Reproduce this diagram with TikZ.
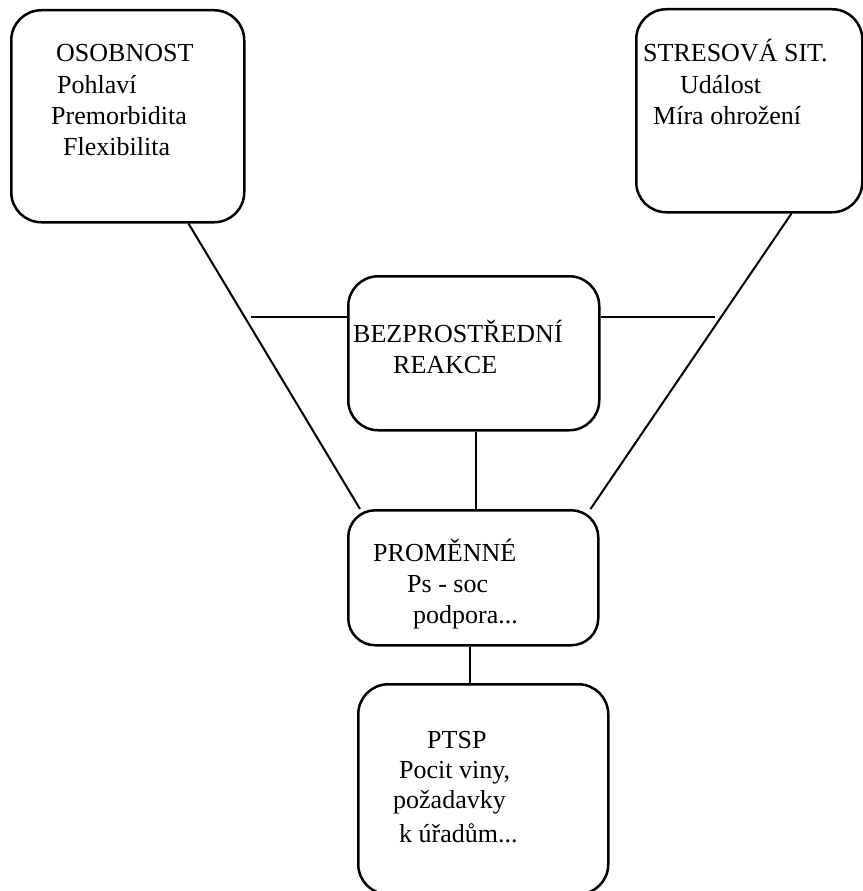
\documentclass[tikz,border=0pt]{standalone}
\usepackage{fontspec}
\setmainfont{Liberation Serif}
\begin{document}
\begin{tikzpicture}[x=1pt,y=-1pt,
  box/.style={draw, line width=2.5pt, rounded corners=30pt, anchor=north west, inner sep=0pt},
  conn/.style={line width=2pt},
  lbl/.style={anchor=base west, inner sep=0pt, font=\fontsize{26}{31}\selectfont}]
\useasboundingbox (0,0) rectangle (862,891);
% boxes
\node[box, minimum width=233pt, minimum height=212pt] (osob) at (10,9) {};
\node[box, minimum width=226pt, minimum height=203pt] (stres) at (635,8) {};
\node[box, minimum width=251pt, minimum height=154pt] (bez) at (347,275) {};
\node[box, rounded corners=27pt, minimum width=250pt, minimum height=135pt] (prom) at (347,509) {};
\node[box, minimum width=250pt, minimum height=210pt] (ptsp) at (357,683) {};
% texts
\node[lbl] (t1) at (56,62) {OSOBNOST};
\node[lbl] (t2) at (57,93) {Pohlaví};
\node[lbl] (t3) at (51,124) {Premorbidita};
\node[lbl] (t4) at (63,155) {Flexibilita};
\node[lbl] (s1) at (643,62) {STRESOVÁ SIT.};
\node[lbl] (s2) at (680,93) {Událost};
\node[lbl] (s3) at (653,124) {Míra ohrožení};
\node[lbl] (b1) at (353,342) {BEZPROSTŘEDNÍ};
\node[lbl] (b2) at (393,373) {REAKCE};
\node[lbl] (p1) at (373,561) {PROMĚNNÉ};
\node[lbl] (p2) at (407,592) {Ps - soc};
\node[lbl] (p3) at (413,623) {podpora...};
\node[lbl] (q1) at (427,748) {PTSP};
\node[lbl] (q2) at (399,778) {Pocit viny,};
\node[lbl] (q3) at (393,808) {požadavky};
\node[lbl] (q4) at (399,842) {k úřadům...};
% connectors
\draw[conn] ([xshift=-57pt]osob.south east) -- ([xshift=13pt]prom.north west);
\draw[conn] ([xshift=-72pt]stres.south east) -- ([xshift=-9pt]prom.north east);
\coordinate (hl) at (251,317);
\coordinate (hr) at (715,317);
\draw[conn] (hl) -- (hl -| bez.west);
\draw[conn] (bez.east |- hr) -- (hr);
\coordinate (v1) at ([xshift=2.5pt]bez.south);
\draw[conn] (v1) -- (v1 |- prom.north);
\coordinate (v2) at ([xshift=-3pt]prom.south);
\draw[conn] (v2) -- (v2 |- ptsp.north);
\end{tikzpicture}
\end{document}
